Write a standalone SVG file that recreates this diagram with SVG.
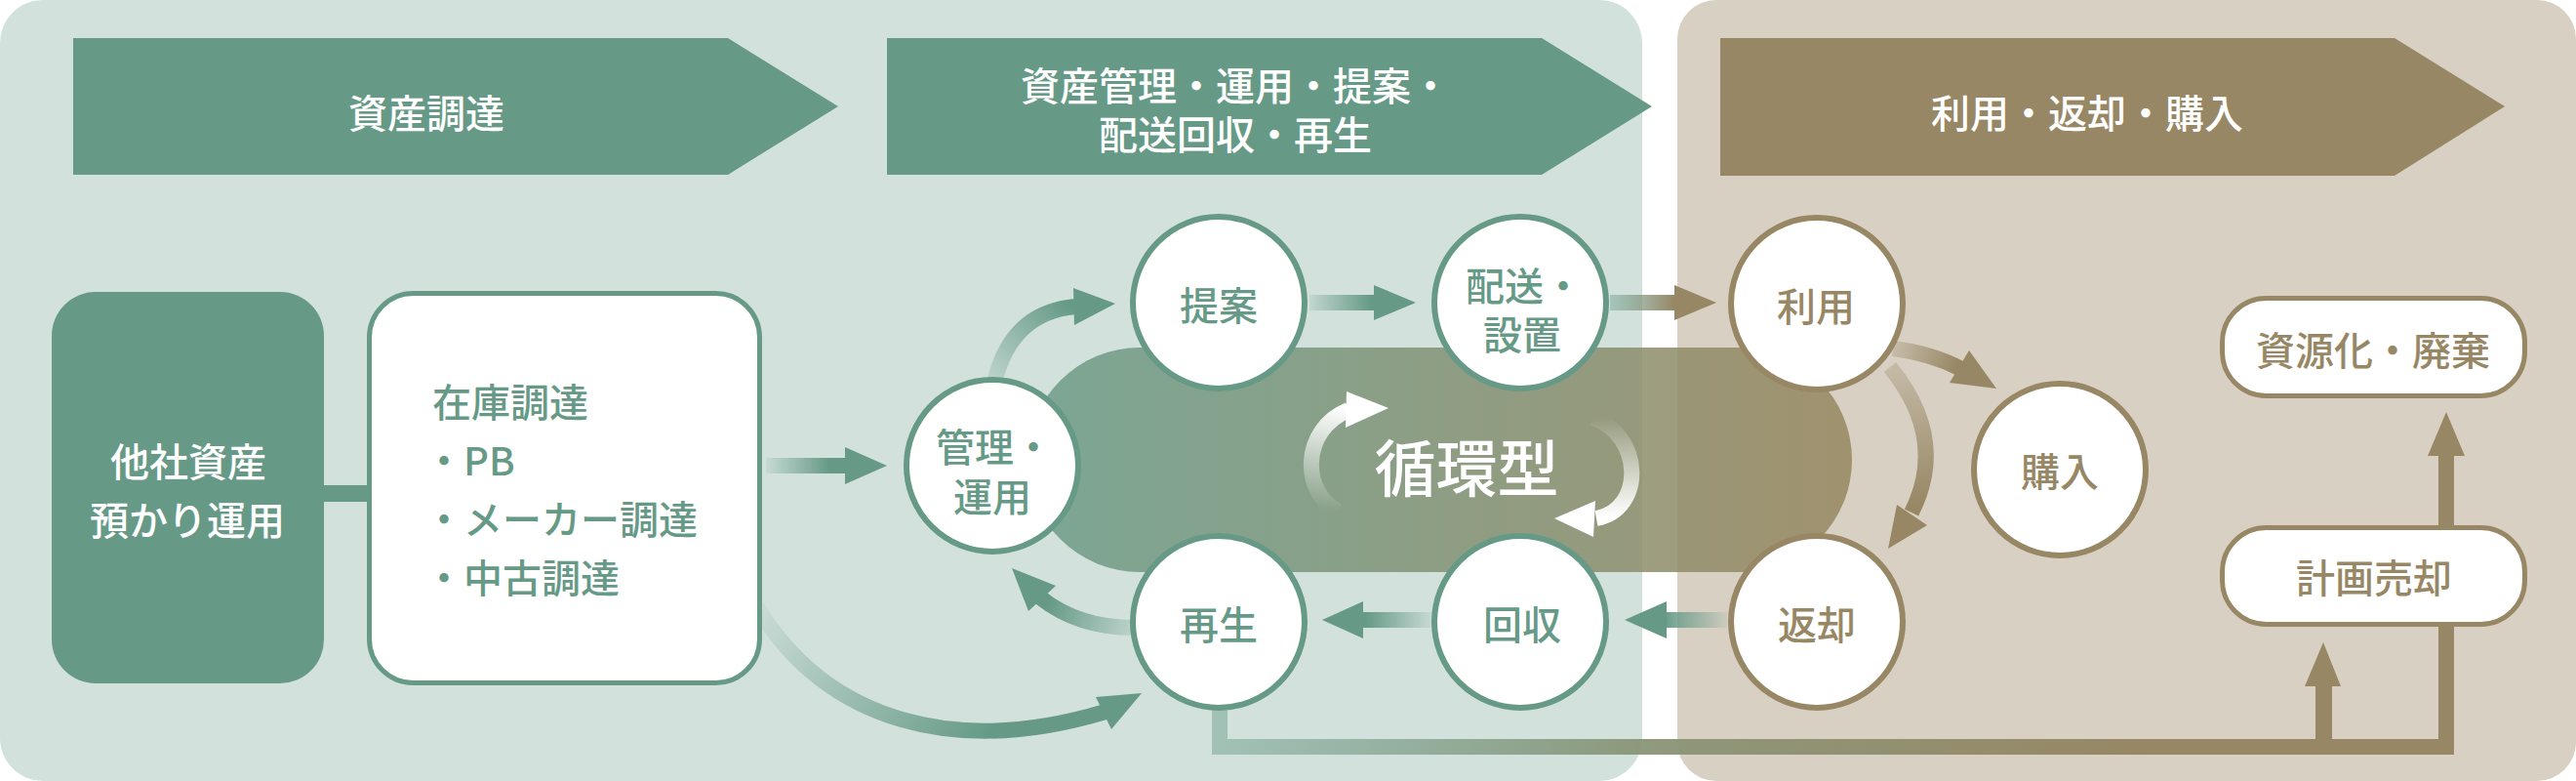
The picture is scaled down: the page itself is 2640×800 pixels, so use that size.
<svg xmlns="http://www.w3.org/2000/svg" width="2640" height="800" viewBox="0 0 2640 800">
<style>
  text { font-family: "Noto Sans CJK JP", "Noto Sans", sans-serif; font-weight: 500; font-size: 40px; dominant-baseline: central; }
  .mid { text-anchor: middle; }
  .w { fill: #ffffff; }
  .g { fill: #669a87; }
  .b { fill: #978764; }
  .circG { fill: #ffffff; stroke: #669a87; stroke-width: 6; }
  .circB { fill: #ffffff; stroke: #978764; stroke-width: 6; }
  .shaft { fill: none; stroke-width: 16; }
  .hg { fill: #669a87; }
  .hb { fill: #978764; }
</style>
<defs>
  <linearGradient id="gA" gradientUnits="userSpaceOnUse" x1="785" y1="0" x2="850" y2="0"><stop offset="0" stop-color="#669a87" stop-opacity="0.1"/><stop offset="1" stop-color="#669a87"/></linearGradient>
  <linearGradient id="gB" gradientUnits="userSpaceOnUse" x1="1342" y1="0" x2="1405" y2="0"><stop offset="0" stop-color="#669a87" stop-opacity="0.15"/><stop offset="1" stop-color="#669a87"/></linearGradient>
  <linearGradient id="gC" gradientUnits="userSpaceOnUse" x1="1650" y1="0" x2="1716" y2="0"><stop offset="0" stop-color="#669a87" stop-opacity="0.4"/><stop offset="1" stop-color="#978764"/></linearGradient>
  <linearGradient id="gD" gradientUnits="userSpaceOnUse" x1="1770" y1="0" x2="1705" y2="0"><stop offset="0" stop-color="#669a87" stop-opacity="0.1"/><stop offset="1" stop-color="#669a87"/></linearGradient>
  <linearGradient id="gE" gradientUnits="userSpaceOnUse" x1="1467" y1="0" x2="1400" y2="0"><stop offset="0" stop-color="#669a87" stop-opacity="0.1"/><stop offset="1" stop-color="#669a87"/></linearGradient>
  <linearGradient id="gF" gradientUnits="userSpaceOnUse" x1="1019" y1="392" x2="1095" y2="312"><stop offset="0" stop-color="#669a87" stop-opacity="0.2"/><stop offset="1" stop-color="#669a87"/></linearGradient>
  <linearGradient id="gG" gradientUnits="userSpaceOnUse" x1="1162" y1="643" x2="1075" y2="615"><stop offset="0" stop-color="#669a87" stop-opacity="0.2"/><stop offset="1" stop-color="#669a87"/></linearGradient>
  <linearGradient id="gH" gradientUnits="userSpaceOnUse" x1="783" y1="630" x2="1010" y2="760"><stop offset="0" stop-color="#669a87" stop-opacity="0.1"/><stop offset="1" stop-color="#669a87"/></linearGradient>
  <linearGradient id="gI" gradientUnits="userSpaceOnUse" x1="1942" y1="358" x2="2005" y2="378"><stop offset="0" stop-color="#978764" stop-opacity="0.3"/><stop offset="1" stop-color="#978764"/></linearGradient>
  <linearGradient id="gJ" gradientUnits="userSpaceOnUse" x1="1937" y1="376" x2="1960" y2="520"><stop offset="0" stop-color="#978764" stop-opacity="0.3"/><stop offset="1" stop-color="#978764"/></linearGradient>
  <linearGradient id="gK" gradientUnits="userSpaceOnUse" x1="1370" y1="524" x2="1385" y2="418"><stop offset="0" stop-color="#ffffff" stop-opacity="0"/><stop offset="1" stop-color="#ffffff"/></linearGradient>
  <linearGradient id="gL" gradientUnits="userSpaceOnUse" x1="1632" y1="428" x2="1636" y2="530"><stop offset="0" stop-color="#ffffff" stop-opacity="0"/><stop offset="1" stop-color="#ffffff"/></linearGradient>
  <linearGradient id="gM" gradientUnits="userSpaceOnUse" x1="1250" y1="0" x2="2200" y2="0"><stop offset="0" stop-color="#669a87" stop-opacity="0.45"/><stop offset="0.45" stop-color="#8a9577" stop-opacity="0.95"/><stop offset="1" stop-color="#978764"/></linearGradient>
  <linearGradient id="gP" gradientUnits="userSpaceOnUse" x1="1053" y1="0" x2="1898" y2="0"><stop offset="0" stop-color="#6c9c88"/><stop offset="1" stop-color="#978760"/></linearGradient>
</defs>

<!-- panels -->
<rect x="0" y="0" width="1683" height="800" rx="44" fill="#d2e1dc"/>
<rect x="1719" y="0" width="921" height="800" rx="40" fill="#d8d0c3"/>

<!-- phase headers -->
<g id="phase-procure">
  <polygon points="75,39 746,39 859,109 746,179 75,179" fill="#669a87"/>
  <text class="w mid" x="437" y="114">資産調達</text>
</g>
<g id="phase-manage">
  <polygon points="909,39 1580,39 1693,109 1580,179 909,179" fill="#669a87"/>
  <text class="w mid" x="1266" y="86">資産管理・運用・提案・</text>
  <text class="w mid" x="1266" y="136">配送回収・再生</text>
</g>
<g id="phase-use">
  <polygon points="1763,39 2454,39 2567,109 2454,180 1763,180" fill="#978764"/>
  <text class="w mid" x="2139" y="114">利用・返却・購入</text>
</g>

<!-- cycle band -->
<g id="cycle">
  <rect x="1053" y="356" width="845" height="230" rx="115" fill="url(#gP)" opacity="0.85"/>
  <path d="M1372,524 C1333,505 1333,440 1382,420" class="shaft" stroke="url(#gK)"/>
  <polygon points="1380,401 1423,418 1379,438" fill="#ffffff"/>
  <path d="M1632,428 C1684,445 1686,522 1636,531" class="shaft" stroke="url(#gL)"/>
  <polygon points="1635,513 1593,531 1633,550" fill="#ffffff"/>
  <text class="w mid" x="1503" y="475" style="font-size:63px">循環型</text>
</g>

<!-- connectors -->
<g id="connectors">
  <rect x="330" y="497" width="50" height="17" fill="#669a87"/>
  <!-- stock -> manage -->
  <rect x="785" y="469" width="82" height="16" fill="url(#gA)"/>
  <polygon points="866,458 909,477 866,496" class="hg"/>
  <!-- manage -> propose -->
  <path d="M1019,392 Q1036,320 1102,314" class="shaft" stroke="url(#gF)"/>
  <polygon points="1100,295 1143,311 1101,333" class="hg"/>
  <!-- propose -> deliver -->
  <rect x="1342" y="302" width="67" height="16" fill="url(#gB)"/>
  <polygon points="1408,292 1451,310 1408,328" class="hg"/>
  <!-- deliver -> use -->
  <rect x="1650" y="302" width="67" height="16" fill="url(#gC)"/>
  <polygon points="1716,292 1759,310 1716,328" class="hb"/>
  <!-- use -> buy -->
  <path d="M1940,357 Q1980,362 2010,378" class="shaft" stroke="url(#gI)"/>
  <polygon points="2018,359 2046,398 1998,392" class="hb"/>
  <!-- use -> return -->
  <path d="M1937,376 Q1997,450 1959,525" class="shaft" stroke="url(#gJ)"/>
  <polygon points="1944,517 1975,538 1935,562" class="hb"/>
  <!-- return -> collect -->
  <rect x="1707" y="627" width="63" height="16" fill="url(#gD)"/>
  <polygon points="1708,616 1665,635 1708,654" class="hg"/>
  <!-- collect -> regenerate -->
  <rect x="1396" y="627" width="71" height="16" fill="url(#gE)"/>
  <polygon points="1397,616 1355,635 1397,654" class="hg"/>
  <!-- regenerate -> manage -->
  <path d="M1162,643 Q1105,643 1066,612" class="shaft" stroke="url(#gG)"/>
  <polygon points="1082,600 1037,582 1054,626" class="hg"/>
  <!-- stock -> regenerate -->
  <path d="M776,622 C848,740 980,775 1133,729" class="shaft" stroke="url(#gH)"/>
  <polygon points="1123,714 1170,710 1139,747" class="hg"/>
  <!-- regenerate -> sale / disposal -->
  <path d="M1250,725 V765 H2507 V466" class="shaft" stroke="url(#gM)" stroke-linejoin="miter"/>
  <polygon points="2488,467 2507,422 2526,467" class="hb"/>
  <rect x="2373" y="701" width="17" height="64" fill="#978764"/>
  <polygon points="2362,703 2381,658 2399,703" class="hb"/>
</g>

<!-- nodes -->
<g id="node-other-assets">
  <rect x="53" y="299" width="279" height="401" rx="45" fill="#669a87"/>
  <text class="w mid" x="193" y="471">他社資産</text>
  <text class="w mid" x="192" y="531">預かり運用</text>
</g>
<g id="node-stock">
  <rect x="378.5" y="300.5" width="400" height="399" rx="45" fill="#ffffff" stroke="#669a87" stroke-width="5"/>
  <text class="g" x="443" y="410">在庫調達</text>
  <text class="g" x="435" y="470">・PB</text>
  <text class="g" x="435" y="530">・メーカー調達</text>
  <text class="g" x="435" y="590">・中古調達</text>
</g>
<g id="node-manage">
  <circle cx="1017" cy="477" r="88" class="circG"/>
  <text class="g mid" x="1019" y="456">管理・</text>
  <text class="g mid" x="1017" y="507">運用</text>
</g>
<g id="node-propose">
  <circle cx="1249" cy="310" r="88" class="circG"/>
  <text class="g mid" x="1249" y="311">提案</text>
</g>
<g id="node-deliver">
  <circle cx="1558" cy="310" r="88" class="circG"/>
  <text class="g mid" x="1562" y="291">配送・</text>
  <text class="g mid" x="1560" y="341">設置</text>
</g>
<g id="node-use">
  <circle cx="1862" cy="311" r="88" class="circB"/>
  <text class="b mid" x="1861" y="312">利用</text>
</g>
<g id="node-buy">
  <circle cx="2111" cy="481" r="88" class="circB"/>
  <text class="b mid" x="2111" y="481">購入</text>
</g>
<g id="node-return">
  <circle cx="1862" cy="637" r="88" class="circB"/>
  <text class="b mid" x="1862" y="638">返却</text>
</g>
<g id="node-collect">
  <circle cx="1558" cy="637" r="88" class="circG"/>
  <text class="g mid" x="1560" y="638">回収</text>
</g>
<g id="node-regenerate">
  <circle cx="1249" cy="637" r="88" class="circG"/>
  <text class="g mid" x="1249" y="638">再生</text>
</g>
<g id="node-recycle">
  <rect x="2277.5" y="305.5" width="310" height="100" rx="45" fill="#ffffff" stroke="#978764" stroke-width="5"/>
  <text class="b mid" x="2432" y="357">資源化・廃棄</text>
</g>
<g id="node-sale">
  <rect x="2277.5" y="540.5" width="310" height="99" rx="45" fill="#ffffff" stroke="#978764" stroke-width="5"/>
  <text class="b mid" x="2433" y="590">計画売却</text>
</g>
</svg>
